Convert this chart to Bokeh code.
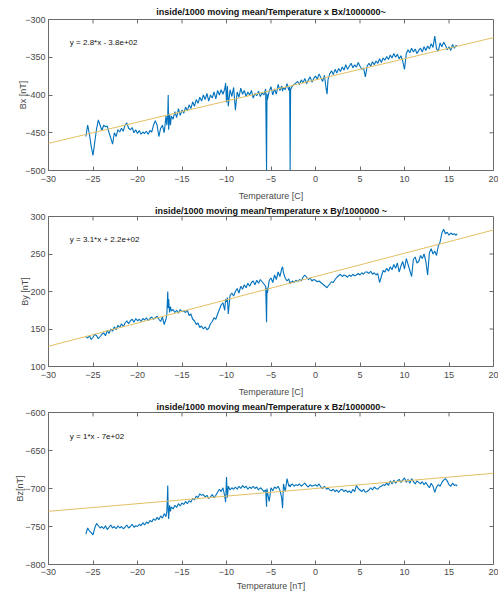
from bokeh.plotting import figure
from bokeh.models import Range1d, FixedTicker, Slope, Label
from bokeh.layouts import column
from bokeh.embed import file_html
from bokeh.resources import INLINE

# Temperature samples shared by the three field components [C]
temperature = [
    -25.8, -25.6, -25.4, -25.2, -25.0, -24.8, -24.6, -24.4, -24.2, -24.0,
    -23.8, -23.6, -23.4, -23.2, -23.0, -22.8, -22.6, -22.4, -22.2, -22.0,
    -21.8, -21.6, -21.4, -21.2, -21.0, -20.8, -20.6, -20.4, -20.2, -20.0,
    -19.8, -19.6, -19.4, -19.2, -19.0, -18.8, -18.6, -18.4, -18.2, -18.0,
    -17.8, -17.6, -17.4, -17.2, -17.0, -16.8, -16.7, -16.6, -16.55, -16.5,
    -16.4, -16.3, -16.2, -16.0, -15.8, -15.6, -15.4, -15.2, -15.0, -14.8,
    -14.6, -14.4, -14.2, -14.0, -13.8, -13.6, -13.4, -13.2, -13.0, -12.8,
    -12.6, -12.4, -12.2, -12.0, -11.8, -11.6, -11.4, -11.2, -11.0, -10.8,
    -10.6, -10.4, -10.2, -10.1, -10.0, -9.9, -9.8, -9.6, -9.4, -9.2,
    -9.0, -8.8, -8.6, -8.4, -8.2, -8.0, -7.8, -7.6, -7.4, -7.2,
    -7.0, -6.8, -6.6, -6.4, -6.2, -6.0, -5.8, -5.6, -5.5, -5.45,
    -5.4, -5.2, -5.0, -4.8, -4.6, -4.4, -4.2, -4.0, -3.8, -3.7,
    -3.6, -3.4, -3.2, -3.0, -2.9, -2.85, -2.8, -2.6, -2.4, -2.2,
    -2.0, -1.8, -1.6, -1.4, -1.2, -1.0, -0.8, -0.6, -0.4, -0.2,
    0.0, 0.2, 0.4, 0.6, 0.8, 1.0, 1.2, 1.3, 1.4, 1.6,
    1.8, 2.0, 2.2, 2.4, 2.6, 2.8, 3.0, 3.2, 3.4, 3.6,
    3.8, 4.0, 4.2, 4.4, 4.6, 4.8, 5.0, 5.2, 5.4, 5.6,
    5.8, 6.0, 6.2, 6.4, 6.6, 6.8, 7.0, 7.2, 7.4, 7.6,
    7.8, 8.0, 8.2, 8.4, 8.6, 8.8, 9.0, 9.2, 9.4, 9.6,
    9.8, 10.0, 10.2, 10.4, 10.6, 10.8, 11.0, 11.2, 11.4, 11.6,
    11.8, 12.0, 12.2, 12.4, 12.6, 12.8, 13.0, 13.2, 13.4, 13.6,
    13.8, 14.0, 14.2, 14.4, 14.6, 14.8, 15.0, 15.2, 15.4, 15.6,
    15.8, 15.9,
]

# Moving-mean field components [nT]
bx = [
    -455, -440, -452, -468, -480, -462, -445, -433, -440, -447,
    -440, -442, -441, -450, -457, -465, -450, -455, -446, -449,
    -444, -448, -440, -437, -444, -446, -443, -450, -446, -451,
    -447, -452, -449, -451, -448, -452, -447, -449, -440, -434,
    -440, -455, -444, -440, -450, -428, -440, -425, -400, -446,
    -425, -440, -428, -432, -422, -430, -418, -427, -420, -424,
    -416, -421, -413, -418, -409, -415, -406, -411, -403, -408,
    -400, -406, -398, -408, -400, -404, -396, -405, -394, -400,
    -393, -399, -392, -384, -410, -388, -415, -393, -402, -390,
    -420, -396, -403, -391, -399, -394, -402, -396, -400, -394,
    -404, -398, -401, -395, -402, -397, -400, -392, -500, -398,
    -406, -395, -389, -400, -392, -399, -386, -394, -388, -395,
    -390, -393, -385, -394, -389, -500, -393, -388, -386, -384,
    -382, -386, -380, -384, -378, -385, -380, -376, -383, -378,
    -375, -379, -372, -377, -382, -374, -392, -399, -380, -372,
    -368, -373, -366, -371, -365, -369, -363, -367, -360, -366,
    -362, -358, -364, -360, -363, -357, -362, -366, -364, -376,
    -362, -358, -362, -356, -360, -355, -358, -352, -357, -351,
    -354, -349, -353, -347, -351, -345, -350, -346, -352, -348,
    -355, -366, -345, -340, -344, -338, -343, -339, -345, -341,
    -338, -343, -336, -341, -335, -339, -332, -337, -322, -339,
    -342, -331, -336, -330, -334, -340, -336, -341, -333, -338,
    -334, -336,
]

by = [
    140, 138, 141, 136, 139, 143, 141, 137, 140, 143,
    145, 141, 148, 144, 150, 147, 153, 149, 155, 152,
    157, 153, 158, 161, 157, 161, 163, 159, 164, 161,
    163, 160, 164, 162, 165, 161, 164, 166, 163, 165,
    167, 163, 160, 166, 156, 163, 170, 200, 178, 190,
    172, 180, 174, 176, 172, 175, 171, 176, 173, 174,
    172, 175, 168, 170, 163, 161, 156, 158, 152, 154,
    150, 153, 149, 151, 157, 160, 165, 163, 170, 176,
    182, 185, 175, 190, 186, 192, 170, 195, 198, 194,
    200, 204, 198, 207, 203, 209, 205, 211, 207, 212,
    214, 209, 215, 211, 216, 213, 210, 207, 159, 205,
    198, 215, 218, 212, 222, 216, 226, 220, 230, 233,
    225, 218, 214, 217, 211, 213, 211, 214, 212, 215,
    213, 216, 214, 219, 222, 219, 216, 218, 214, 216,
    215, 213, 214, 212, 210, 208, 206, 205, 207, 210,
    213, 212, 216, 219, 221, 223, 220, 222, 221, 219,
    222, 220, 223, 221, 222, 224, 222, 225, 223, 226,
    226, 224, 227, 223, 225, 222, 224, 212, 220, 228,
    226, 231, 227, 233, 229, 236, 231, 238, 226, 234,
    240, 230, 244, 236, 228, 220, 243, 246, 238, 240,
    248, 244, 250, 240, 222, 252, 257, 250, 254, 248,
    261, 266, 278, 283, 277, 279, 275, 278, 276, 277,
    275, 277,
]

bz = [
    -760, -752, -756, -758, -761, -752, -746, -749, -752, -750,
    -753, -749, -754, -751, -748, -752, -750, -753, -749, -752,
    -750, -753, -751, -748, -752, -750, -747, -751, -749, -750,
    -747, -749, -745, -748, -744, -746, -742, -744, -740, -742,
    -738, -741, -736, -739, -733, -737, -730, -696, -728, -740,
    -722, -730, -724, -727, -722, -725, -720, -723, -719, -721,
    -717, -720, -716, -718, -713, -715, -710, -712, -707, -709,
    -708, -711, -709, -713, -711, -708, -712, -709, -705, -701,
    -704, -699, -710, -718, -685, -712, -697, -702, -699, -701,
    -698, -701, -697, -700, -696, -699, -697, -701, -698, -700,
    -697, -700, -698, -702, -699, -701, -704, -702, -724, -700,
    -705, -717, -699, -703, -698, -700, -697, -702, -712, -726,
    -694, -704, -687, -697, -695, -698, -696, -694, -697, -695,
    -696, -694, -697, -695, -693, -696, -698, -695, -697, -696,
    -695, -697, -694, -698, -700, -697, -700, -701, -699, -702,
    -703, -701, -704, -702, -705, -702, -701, -704, -702, -705,
    -703, -706, -701, -704, -696, -700, -702, -704, -701, -705,
    -704, -702, -699, -702, -698, -700, -701, -698, -697, -695,
    -696, -693, -696, -690, -694, -689, -693, -690, -688, -692,
    -689, -686, -692, -688, -693, -687, -691, -694, -690, -692,
    -694, -691, -695, -692, -696, -699, -693, -697, -705, -698,
    -695, -697, -692, -689, -687, -690, -695, -697, -693, -696,
    -695, -697,
]

# Linear fit coefficients (slope, intercept) for each component
fit_slopes = [2.8, 3.1, 1.0]
fit_intercepts = [-380.0, 220.0, -700.0]
fit_labels = ["y = 2.8*x - 3.8e+02", "y = 3.1*x + 2.2e+02", "y = 1*x - 7e+02"]

titles = [
    "inside/1000 moving mean/Temperature x Bx/1000000~",
    "inside/1000 moving mean/Temperature x By/1000000 ~",
    "inside/1000 moving mean/Temperature x Bz/1000000~",
]
y_labels = ["Bx [nT]", "By [nT]", "Bz[nT]"]
x_labels = ["Temperature [C]", "Temperature [C]", "Temperature [nT]"]
y_limits = [(-500, -300), (100, 300), (-800, -600)]
x_ticks = [-30, -25, -20, -15, -10, -5, 0, 5, 10, 15, 20]
label_y = [-330, 270, -631]
series = [bx, by, bz]

FONT = "Liberation Sans"
BLUE = "#0072BD"
GOLD = "#E2BF63"
AXIS = "#6a6a6a"
TEXT = "#4a4a4a"

# per-panel geometry: figure height, top border, bottom border
heights = [203, 196, 194]
borders_top = [19, 12, 13]
borders_bottom = [31, 31, 26]
title_standoff = [5, 1, 1]
tick_standoff = [5, 5, 4]
xlabel_standoff = [6, 6, 3]
ylabel_standoff = [-6, -3, -3]
LEFT = 48
RIGHT = 5
TICK = 4  # inward tick length in pixels


def style_axis(ax):
    ax.axis_line_color = None
    ax.major_tick_in = TICK
    ax.major_tick_out = 0
    ax.minor_tick_in = 0
    ax.minor_tick_out = 0
    ax.major_tick_line_color = AXIS
    ax.major_label_text_font = FONT
    ax.major_label_text_color = TEXT
    ax.major_label_text_font_size = "9px"
    ax.axis_label_text_font = FONT
    ax.axis_label_text_font_size = "9px"
    ax.axis_label_text_font_style = "normal"
    ax.axis_label_text_color = TEXT


plots = []
for i in range(3):
    lo, hi = y_limits[i]
    y_ticks = list(range(lo, hi + 1, 50))
    p = figure(
        width=498, height=heights[i],
        x_range=Range1d(-30, 20), y_range=Range1d(lo, hi),
        output_backend="svg", toolbar_location=None,
        min_border_left=LEFT, min_border_right=RIGHT,
        min_border_top=borders_top[i], min_border_bottom=borders_bottom[i],
    )
    p.grid.visible = False
    p.outline_line_color = AXIS
    p.outline_line_width = 1
    p.background_fill_color = "white"
    p.border_fill_color = "white"

    p.xaxis.ticker = FixedTicker(ticks=x_ticks)
    p.yaxis.ticker = FixedTicker(ticks=y_ticks)
    style_axis(p.xaxis[0])
    style_axis(p.yaxis[0])
    p.xaxis.major_label_standoff = tick_standoff[i]
    p.yaxis.major_label_standoff = 3
    p.xaxis.axis_label = x_labels[i]
    p.yaxis.axis_label = y_labels[i]
    p.xaxis.axis_label_standoff = xlabel_standoff[i]
    p.yaxis.axis_label_standoff = ylabel_standoff[i]

    # mirrored inward ticks on the top and right edges of the box
    frame_w = 498 - LEFT - RIGHT
    frame_h = heights[i] - borders_top[i] - borders_bottom[i]
    dy = (hi - lo) * TICK / frame_h
    dx = 50 * TICK / frame_w
    inner_x = x_ticks[1:-1]
    inner_y = y_ticks[1:-1]
    p.segment(x0=inner_x, y0=[hi] * len(inner_x), x1=inner_x,
              y1=[hi - dy] * len(inner_x), line_color=AXIS, line_width=1)
    p.segment(x0=[20] * len(inner_y), y0=inner_y, x1=[20 - dx] * len(inner_y),
              y1=inner_y, line_color=AXIS, line_width=1)

    p.title.text = titles[i]
    p.title.text_font = FONT
    p.title.text_font_size = "9px"
    p.title.text_font_style = "bold"
    p.title.text_color = "#111111"
    p.title.align = "center"
    p.title.standoff = title_standoff[i]

    # fitted trend line across the whole axis
    p.add_layout(Slope(gradient=fit_slopes[i], y_intercept=fit_intercepts[i],
                       line_color=GOLD, line_width=1))
    p.line(temperature, series[i], line_color=BLUE, line_width=1.1)

    p.add_layout(Label(x=-27.6, y=label_y[i], text=fit_labels[i],
                       text_font=FONT, text_font_size="8px",
                       text_color="#111111", text_baseline="middle"))
    plots.append(p)

layout = column(*plots, spacing=0)
open("out.html", "w").write(file_html(layout, INLINE))
